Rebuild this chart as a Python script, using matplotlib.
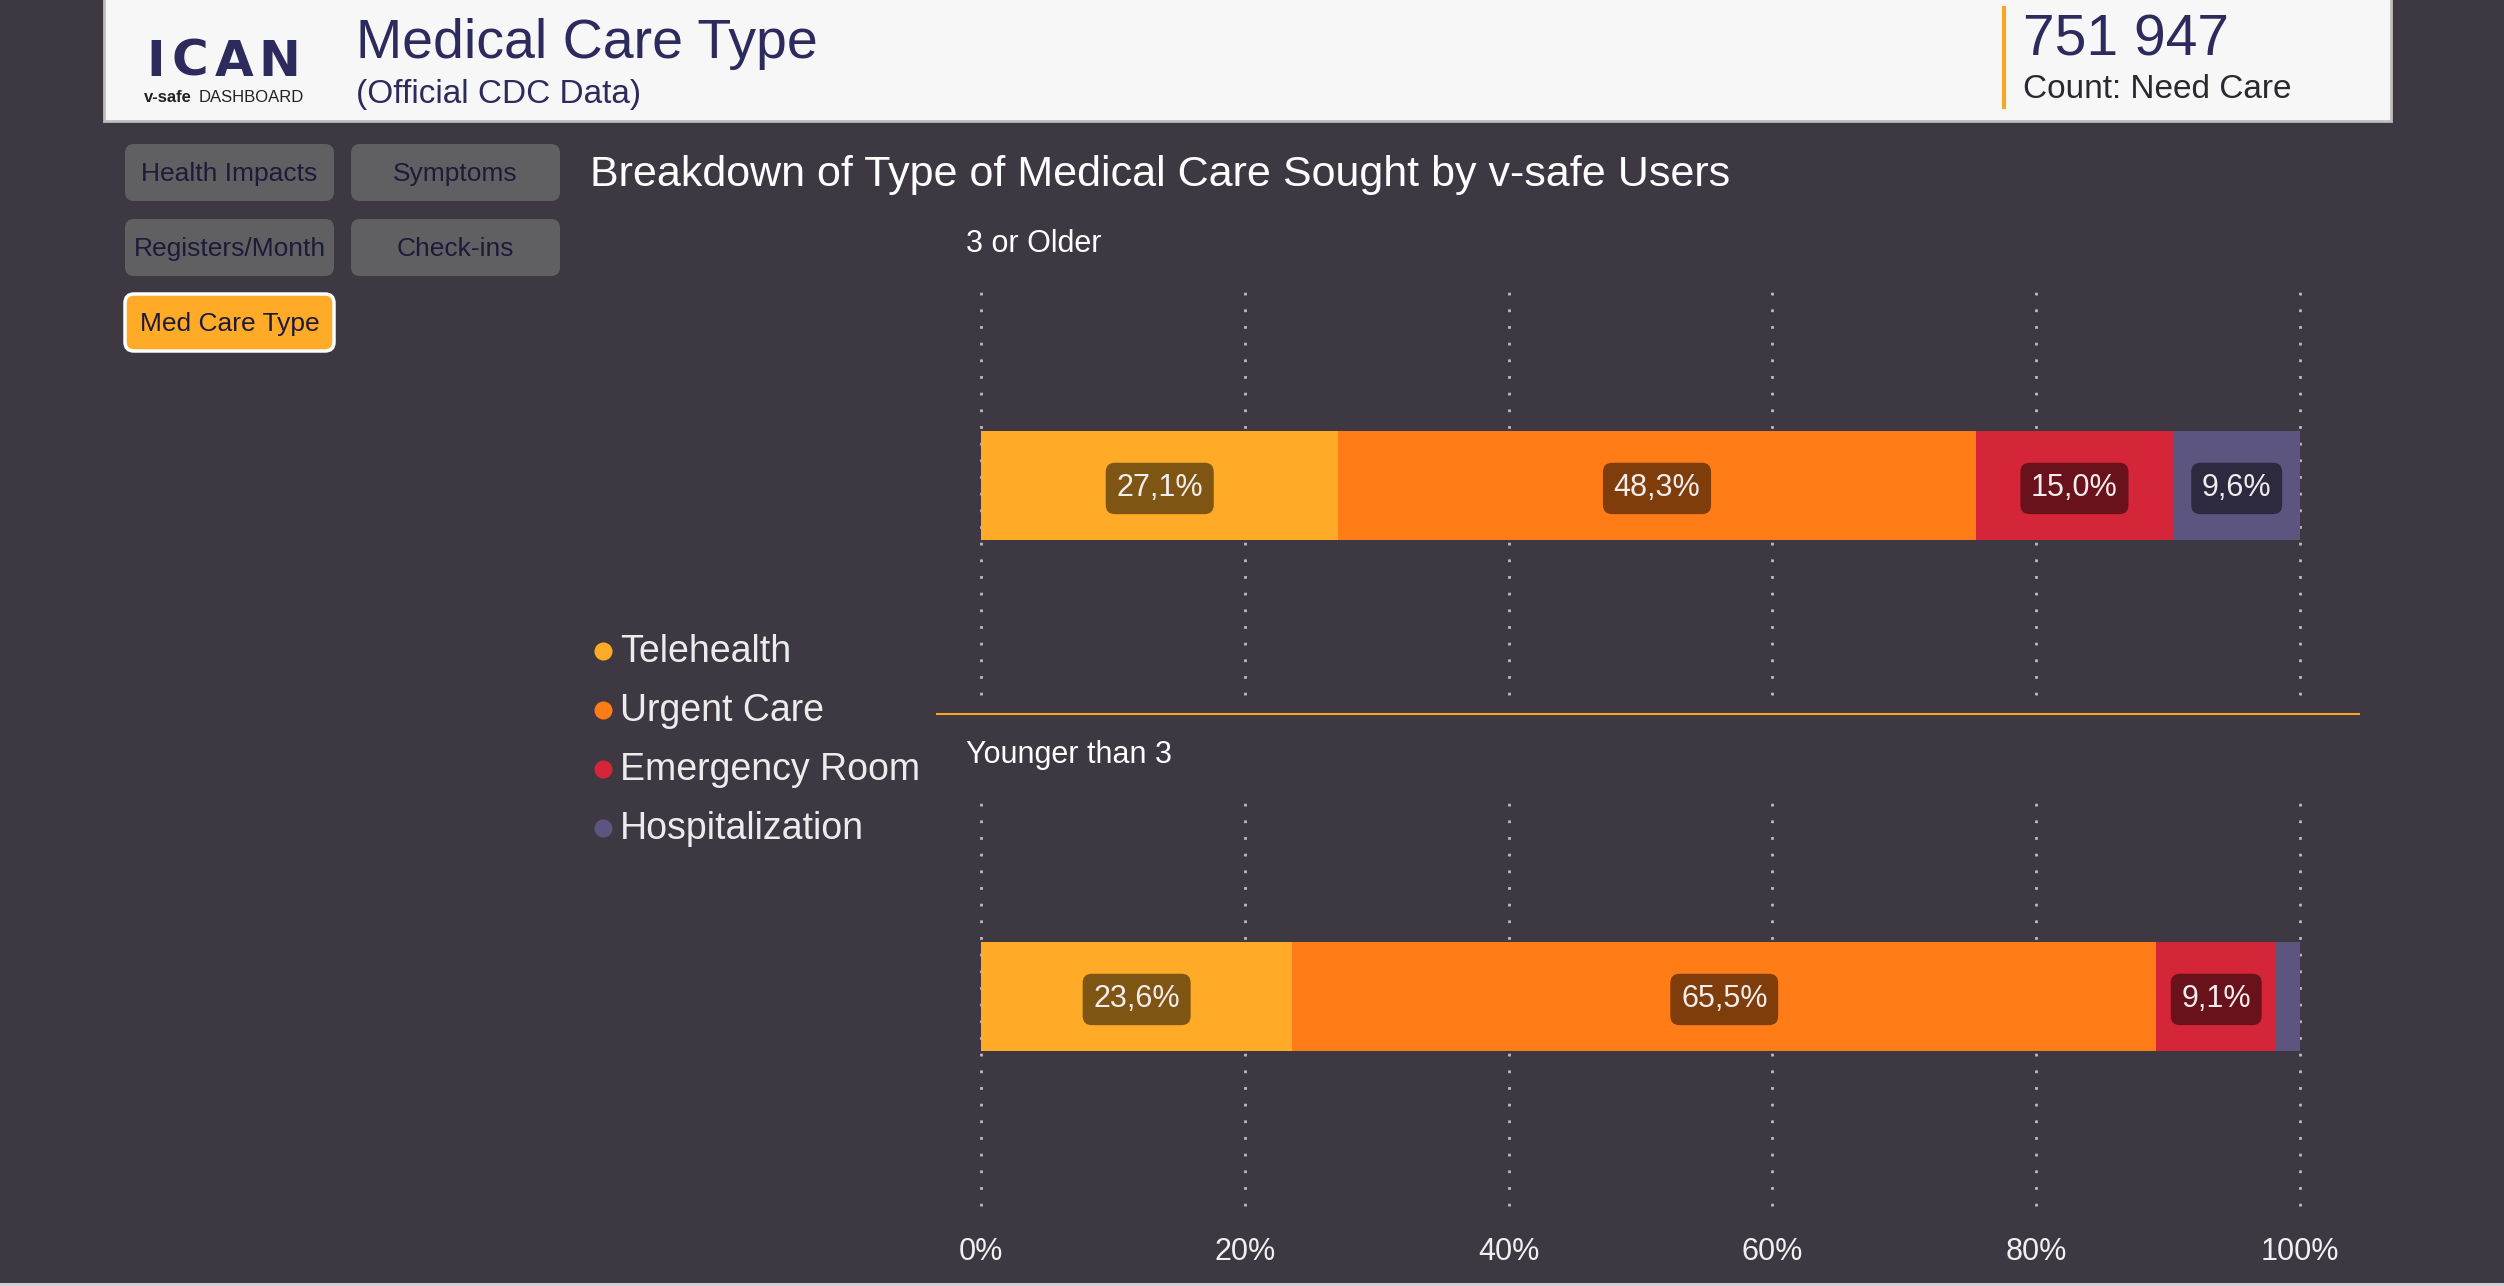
import matplotlib
matplotlib.use("Agg")
import matplotlib.pyplot as plt
from matplotlib.patches import FancyBboxPatch, Rectangle
import numpy as np

# chart data
groups = ['3 or Older', 'Younger than 3']
care_types = ['Telehealth', 'Urgent Care', 'Emergency Room', 'Hospitalization']
telehealth = [27.1, 23.6]
urgent_care = [48.3, 65.5]
emergency_room = [15.0, 9.1]
hospitalization = [9.6, 1.8]
x_ticks = [0, 20, 40, 60, 80, 100]
x_tick_labels = ['0%', '20%', '40%', '60%', '80%', '100%']

buttons = ['Health Impacts', 'Symptoms', 'Registers/Month', 'Check-ins', 'Med Care Type']
need_care_count = '751 947'

# colours
BG = '#3d3842'
HEADER_BG = '#f7f7f7'
NAVY = '#2d2a5e'
ORANGE_LINE = '#f5a623'
COLORS = ['#ffab27', '#ff7c17', '#d42638', '#5c557f']

plt.rcParams['font.family'] = ['Liberation Sans', 'DejaVu Sans']

W, H = 2504, 1286
fig = plt.figure(figsize=(W / 100, H / 100), dpi=100, facecolor=BG)

# overlay axes in pixel units for the dashboard chrome
bg = fig.add_axes([0, 0, 1, 1], zorder=0)
bg.set_xlim(0, W)
bg.set_ylim(H, 0)
bg.axis('off')
bg.set_facecolor(BG)


def px_rect(x0, y0, x1, y1):
    return [x0 / W, 1 - y1 / H, (x1 - x0) / W, (y1 - y0) / H]


# header
bg.add_patch(Rectangle((104, -5), 2287, 126, facecolor=HEADER_BG, edgecolor='#bdbdbd', linewidth=2))
# logo letters, spaced out like the original
for letter, lx in zip('ICAN', [146, 172, 215, 258]):
    bg.text(lx, 76, letter, fontsize=36, fontweight='bold', color=NAVY, va='baseline', ha='left',
            family='DejaVu Sans')
bg.text(144, 97, 'v-safe', fontsize=12, fontweight='bold', color='#222222', va='center', ha='left')
bg.text(199, 97, 'DASHBOARD', fontsize=12, color='#222222', va='center', ha='left')
bg.text(356, 44, 'Medical Care Type', fontsize=40, color=NAVY, va='center', ha='left')
bg.text(356, 95, '(Official CDC Data)', fontsize=24, color=NAVY, va='center', ha='left')
bg.plot([2004, 2004], [8, 107], color=ORANGE_LINE, linewidth=3)
bg.text(2023, 40, need_care_count, fontsize=41, color=NAVY, va='center', ha='left')
bg.text(2023, 90, 'Count: Need Care', fontsize=24, color='#2a2830', va='center', ha='left')

# bottom strip
bg.add_patch(Rectangle((0, 1283), W, 5, facecolor='#d0d0d0', edgecolor='none'))

# nav buttons
btn_pos = [(125, 144), (351, 144), (125, 219), (351, 219), (125, 294)]
for name, (bx, by) in zip(buttons, btn_pos):
    active = name == 'Med Care Type'
    bg.add_patch(FancyBboxPatch((bx, by), 209, 57, boxstyle='round,pad=0,rounding_size=9',
                                facecolor='#ffab27' if active else '#606063',
                                edgecolor='white' if active else 'none',
                                linewidth=2.5 if active else 0))
    bg.text(bx + 104.5, by + 30, name, fontsize=19, color='#1e1b3a', ha='center', va='center')

# chart title
bg.text(590, 175, 'Breakdown of Type of Medical Care Sought by v-safe Users',
        fontsize=31, color='white', va='center', ha='left')

# legend
for i, (name, col) in enumerate(zip(care_types, COLORS)):
    y = 652 + i * 59
    bg.plot(603, y - 1, 'o', markersize=13, color=col, markeredgewidth=0)
    bg.text(620, y, name, fontsize=27, color='#ececec', va='center', ha='left')

# separator between panels
bg.plot([937, 2359], [714, 714], color=ORANGE_LINE, linewidth=1.5)

# panels
series = [telehealth, urgent_care, emergency_room, hospitalization]
panel_boxes = [(284, 695), (795, 1206)]
label_y = [244, 755]
for g, group in enumerate(groups):
    top, bottom = panel_boxes[g]
    ax = fig.add_axes(px_rect(981, top, 2300, bottom), zorder=2)
    ax.set_facecolor('none')
    ax.set_xlim(0, 100)
    ax.set_ylim(-1.0, 0.96)
    left = 0.0
    for vals, col in zip(series, COLORS):
        v = vals[g]
        ax.barh(0, v, left=left, height=0.52, color=col, edgecolor='none', zorder=3)
        if v >= 5:
            ax.text(left + v / 2, -0.015, f'{v:.1f}'.replace('.', ',') + '%', fontsize=22,
                    color='#f3ecec', ha='center', va='center', zorder=4,
                    bbox=dict(boxstyle='round,pad=0.35,rounding_size=0.3',
                              facecolor=(0, 0, 0, 0.5), edgecolor='none'))
        left += v
    ax.set_xticks(x_ticks)
    ax.grid(axis='x', color='#bdb8c4', linewidth=2, linestyle=(0, (1, 5)), zorder=0)
    for gl in ax.get_xgridlines():
        gl.set_clip_on(False)
    ax.set_yticks([])
    for s in ax.spines.values():
        s.set_visible(False)
    ax.tick_params(axis='x', length=0, pad=22)
    if g == len(groups) - 1:
        ax.set_xticklabels(x_tick_labels, fontsize=22, color='#f0f0f0')
    else:
        ax.set_xticklabels([])
    bg.text(966, label_y[g], group, fontsize=22, color='white', va='center', ha='left')

fig.savefig('out.png', dpi=100, facecolor=BG)
